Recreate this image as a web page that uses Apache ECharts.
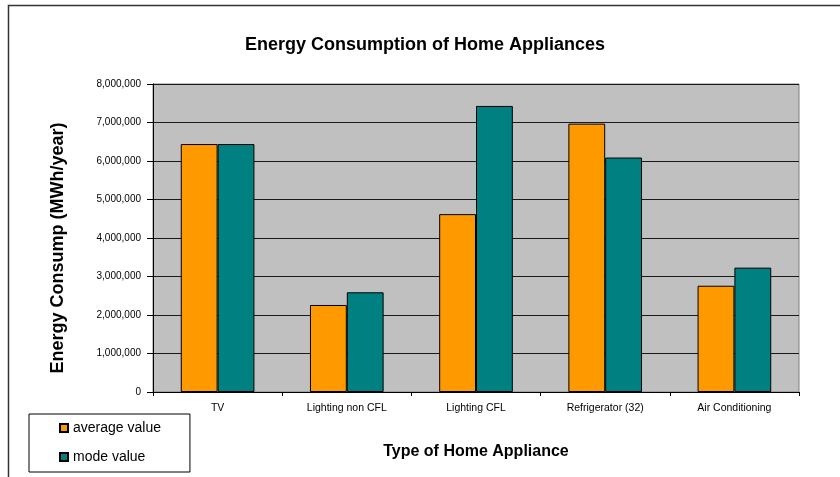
<!DOCTYPE html>
<html>
<head>
<meta charset="utf-8">
<title>Energy Consumption of Home Appliances</title>
<script src="https://cdn.jsdelivr.net/npm/echarts@6/dist/echarts.min.js"></script>
<style>
  html, body { margin: 0; padding: 0; background: #ffffff; }
  #chart { width: 840px; height: 477px; }
</style>
</head>
<body>
<div id="chart"></div>
<script>
// Appliance categories along the x axis
const categories = ['TV', 'Lighting non CFL', 'Lighting CFL', 'Refrigerator (32)', 'Air Conditioning'];
// Annual consumption in MWh/year
const averageValues = [6440000, 2260000, 4620000, 6970000, 2760000];
const modeValues = [6440000, 2590000, 7430000, 6090000, 3230000];
// Value axis ticks
const yTicks = [0, 1000000, 2000000, 3000000, 4000000, 5000000, 6000000, 7000000, 8000000];

const FONT = '"Liberation Sans", Arial, Helvetica, sans-serif';
const chart = echarts.init(document.getElementById('chart'), null, { renderer: 'canvas' });

chart.setOption({
  animation: false,
  backgroundColor: '#ffffff',
  title: {
    text: 'Energy Consumption of Home Appliances',
    left: 420,
    top: 31,
    textAlign: 'center',
    textStyle: { fontFamily: FONT, fontSize: 18, fontWeight: 'bold', color: '#000000' }
  },
  legend: {
    orient: 'vertical',
    left: 29,
    top: 414,
    padding: [6, 29, 7, 30],
    itemWidth: 8,
    itemHeight: 8,
    itemGap: 13,
    icon: 'rect',
    backgroundColor: '#ffffff',
    borderColor: '#000000',
    borderWidth: 1,
    textStyle: { fontFamily: FONT, fontSize: 14, color: '#000000', lineHeight: 16 },
    data: ['average value', 'mode value']
  },
  grid: {
    left: 153, right: 41, top: 84, bottom: 85,
    show: true,
    backgroundColor: '#c0c0c0',
    borderColor: '#808080',
    borderWidth: 1
  },
  xAxis: {
    type: 'category',
    data: categories,
    name: 'Type of Home Appliance',
    nameLocation: 'middle',
    nameGap: 52,
    nameTextStyle: { fontFamily: FONT, fontSize: 16, fontWeight: 'bold', color: '#000000' },
    axisLine: { lineStyle: { color: '#000000', width: 1 } },
    axisTick: { show: true, length: 4, lineStyle: { color: '#000000' } },
    axisLabel: { fontFamily: FONT, fontSize: 10.5, color: '#000000', margin: 11, interval: 0 }
  },
  yAxis: {
    type: 'value',
    min: yTicks[0],
    max: yTicks[yTicks.length - 1],
    interval: yTicks[1] - yTicks[0],
    name: 'Energy Consump (MWh/year)',
    nameLocation: 'middle',
    nameGap: 86,
    nameTextStyle: {
      fontFamily: FONT, fontSize: 18, fontWeight: 'bold', color: '#000000',
      padding: [0, 20, 0, 0]
    },
    axisLine: { show: true, lineStyle: { color: '#000000', width: 1 } },
    axisTick: { show: true, length: 6, lineStyle: { color: '#000000' } },
    axisLabel: {
      fontFamily: FONT, fontSize: 10, color: '#000000', margin: 12,
      formatter: v => v.toLocaleString('en-US')
    },
    splitLine: { show: true, lineStyle: { color: '#1a1a1a', width: 1 } }
  },
  series: [
    {
      name: 'average value',
      type: 'bar',
      data: averageValues,
      barGap: '0%',
      barCategoryGap: '43%',
      itemStyle: { color: '#ff9900', borderColor: '#000000', borderWidth: 1 }
    },
    {
      name: 'mode value',
      type: 'bar',
      data: modeValues,
      itemStyle: { color: '#008080', borderColor: '#000000', borderWidth: 1 }
    }
  ],
  graphic: [
    {
      type: 'rect',
      silent: true,
      z: 100,
      shape: { x: 8.5, y: 5.5, width: 840, height: 480 },
      style: { fill: 'none', stroke: '#333333', lineWidth: 1.5 }
    }
  ]
});
</script>
</body>
</html>
